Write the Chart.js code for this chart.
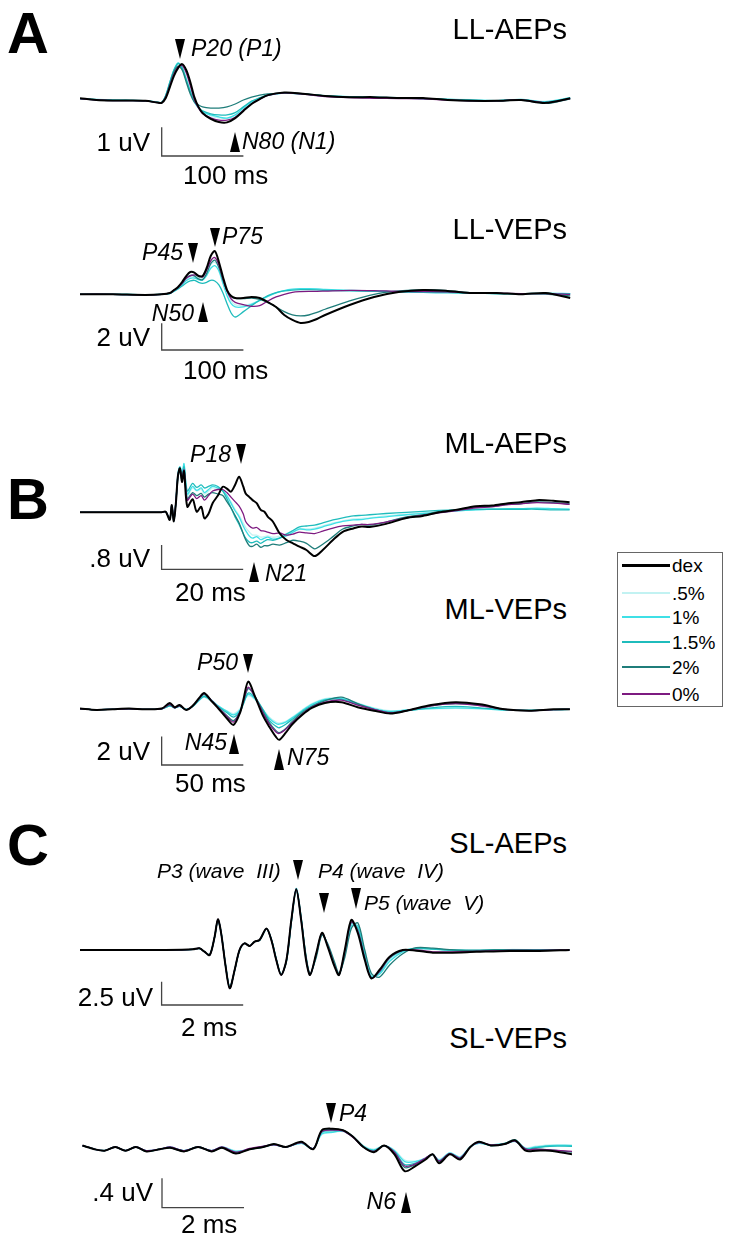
<!DOCTYPE html>
<html><head><meta charset="utf-8">
<script src="https://cdn.jsdelivr.net/npm/chart.js@4.4.0/dist/chart.umd.min.js"></script>
<style>
html,body{margin:0;padding:0;background:#fff;}
body{width:733px;height:1233px;position:relative;overflow:hidden;font-family:"Liberation Sans",Arial,sans-serif;color:#000;}
.t{position:absolute;white-space:pre;line-height:1;}
.tri{position:absolute;width:0;height:0;}
canvas{position:absolute;}
#legend{position:absolute;left:617px;top:552px;width:106px;height:155px;border:1px solid #666;box-sizing:border-box;}
</style></head><body>
<div id="legend"></div>
<script>
// ---------- series ----------
const seriesNames = ['dex', '.5%', '1%', '1.5%', '2%', '0%'];
const seriesColors = ['#000000', '#c2f2f2', '#3fe0e6', '#1fbcbc', '#1f7d7a', '#7d1a80'];

// ---------- LL-AEPs (ms, uV) ----------
const tLLAEP = [-100,-80,-60,-40,-20,-5,0,5,10,15,20,25,30,35,40,45,50,60,70,80,90,100,110,120,130,150,170,200,230,260,290,320,350,380,410,440,470,500];
const llaepDex = [0.06,0,-0.02,-0.02,-0.03,-0.09,-0.1,0.07,0.45,0.84,1.11,1.25,1.05,0.63,0.1,-0.24,-0.45,-0.66,-0.77,-0.78,-0.63,-0.38,-0.14,0.03,0.17,0.26,0.23,0.14,0.1,0.1,0.07,0.07,0,-0.03,-0.03,0,-0.1,0.06];
const llaepP05 = [0.04,0.01,0.01,0,-0.02,-0.07,-0.08,0.15,0.6,1.02,1.25,1.15,0.78,0.35,0,-0.25,-0.4,-0.55,-0.62,-0.64,-0.55,-0.32,-0.1,0.05,0.15,0.24,0.22,0.15,0.12,0.09,0.06,0.05,0.03,0.01,-0.01,0.02,-0.05,0.07];
const llaepP1 = [0.05,0.02,0,-0.01,-0.02,-0.08,-0.08,0.17,0.63,1.05,1.29,1.11,0.7,0.28,-0.07,-0.28,-0.42,-0.52,-0.59,-0.63,-0.52,-0.28,-0.07,0.07,0.17,0.24,0.21,0.14,0.12,0.1,0.08,0.05,0.02,0,-0.02,0.02,-0.06,0.08];
const llaepP15 = [0.05,0.01,-0.01,-0.01,-0.03,-0.08,-0.09,0.16,0.62,1.04,1.27,1.12,0.72,0.3,-0.05,-0.26,-0.38,-0.48,-0.52,-0.52,-0.44,-0.24,-0.04,0.08,0.18,0.24,0.22,0.14,0.11,0.09,0.07,0.05,0.02,-0.01,-0.02,0.01,-0.08,0.06];
const llaepP2 = [0.05,0,-0.02,-0.02,-0.03,-0.09,-0.1,0.14,0.56,0.98,1.18,1.05,0.63,0.21,-0.07,-0.17,-0.24,-0.28,-0.28,-0.24,-0.14,0,0.1,0.17,0.21,0.24,0.22,0.15,0.1,0.08,0.06,0.05,0.01,-0.03,-0.04,0,-0.12,0.04];
const llaepP0 = [0.05,0,-0.02,-0.02,-0.03,-0.09,-0.1,0.1,0.5,0.9,1.15,1.2,0.95,0.5,0.02,-0.28,-0.47,-0.62,-0.7,-0.7,-0.6,-0.36,-0.13,0.03,0.16,0.25,0.21,0.12,0.08,0.06,0.05,0.04,0,-0.03,-0.03,0,-0.09,0.05];

// ---------- LL-VEPs ----------
const tLLVEP = [-100,-60,-20,0,10,15,20,25,30,35,40,45,50,55,60,65,70,75,80,85,90,100,110,120,130,140,150,160,170,180,190,200,230,260,290,320,350,380,410,440,470,500];
const llvepDex = [0,0,-0.05,0,0.1,0.32,0.55,0.92,1.37,1.67,1.63,1.37,1.37,1.97,2.87,3.24,2.42,1.3,0.32,-0.13,-0.28,-0.28,-0.2,-0.28,-0.58,-0.95,-1.55,-1.92,-2.15,-2.07,-1.85,-1.55,-0.8,-0.2,0.17,0.32,0.25,0.1,0.1,0,0.1,-0.28];
const llvepP05 = [0,0,-0.03,0,0.08,0.28,0.48,0.78,1.1,1.3,1.35,1.25,1.2,1.6,2.2,2.4,2.0,1.0,0.1,-0.5,-0.8,-0.85,-0.7,-0.45,-0.15,0.1,0.25,0.35,0.4,0.4,0.38,0.35,0.3,0.25,0.2,0.15,0.12,0.08,0.05,0.05,0.05,0.02];
const llvepP1 = [0,0,-0.03,0,0.07,0.25,0.45,0.72,1.02,1.2,1.22,1.1,1.05,1.4,1.95,2.15,1.75,0.8,-0.1,-0.7,-0.95,-0.95,-0.75,-0.45,-0.15,0.1,0.28,0.38,0.42,0.42,0.4,0.36,0.3,0.25,0.2,0.15,0.12,0.08,0.05,0.05,0.08,0.05];
const llvepP15 = [0,0,-0.03,0,0.06,0.22,0.4,0.62,0.85,1.0,1.05,0.9,0.82,0.9,1.05,1.0,0.7,0.1,-0.7,-1.4,-1.7,-1.3,-0.85,-0.45,-0.1,0.12,0.25,0.32,0.35,0.35,0.33,0.3,0.25,0.22,0.18,0.15,0.12,0.08,0.05,0.04,0.05,0.05];
const llvepP2 = [0,0,-0.04,0,0.08,0.28,0.5,0.8,1.2,1.42,1.38,1.15,1.1,1.55,2.3,2.55,2.0,1.05,0.25,-0.15,-0.3,-0.32,-0.28,-0.38,-0.62,-0.95,-1.3,-1.55,-1.62,-1.55,-1.35,-1.12,-0.5,0,0.25,0.35,0.28,0.12,0.06,0.05,0.02,-0.12];
const llvepP0 = [0,0,-0.04,0,0.08,0.3,0.5,0.82,1.2,1.38,1.45,1.42,1.3,1.8,2.5,2.75,2.2,1.15,0.25,-0.35,-0.6,-0.78,-0.9,-0.85,-0.5,-0.2,0,0.15,0.2,0.22,0.22,0.24,0.3,0.28,0.22,0.2,0.18,0.12,0.08,0.05,0.05,0];

// ---------- ML-AEPs ----------
const tMLAEP = [-20,-10,0,1,2,2.5,3,3.5,4,4.5,5,5.5,6.3,7.6,8.6,9.7,10.5,11.5,12.5,13.8,15,16,17,18,19,20,20.6,21.5,22.3,23.3,24.3,25.2,26,27.3,28.9,30.6,32.2,33.8,35.5,37.5,39.5,42,44.4,47,49,51,55,60,64,68,72,77,81,85,88,92,96,100];
const mlaepDex = [0,0,0,0.02,-0.25,0.24,-0.3,0.3,1.2,1.45,1.0,1.35,0.18,0.43,0.02,0.18,-0.2,-0.05,0.3,0.55,0.84,0.78,0.68,0.9,1.17,0.85,0.62,0.5,0.4,0.3,0.08,0.02,-0.14,-0.31,-0.69,-0.91,-1.02,-1.13,-1.24,-1.44,-1.24,-0.91,-0.64,-0.53,-0.47,-0.48,-0.38,-0.19,-0.12,0,0.08,0.2,0.22,0.3,0.33,0.4,0.38,0.33];
const mlaepP05 = [0,0,0,0.02,-0.22,0.22,-0.28,0.35,1.25,1.5,1.25,1.55,0.55,0.8,0.7,0.75,0.6,0.7,0.8,0.78,0.7,0.55,0.35,0.1,-0.1,-0.35,-0.5,-0.65,-0.75,-0.75,-0.82,-0.8,-0.78,-0.82,-0.78,-0.7,-0.6,-0.52,-0.55,-0.52,-0.45,-0.35,-0.28,-0.22,-0.2,-0.18,-0.12,-0.06,-0.02,0.02,0.05,0.08,0.1,0.12,0.12,0.12,0.1,0.1];
const mlaepP1 = [0,0,0,0.02,-0.22,0.22,-0.28,0.35,1.25,1.5,1.3,1.6,0.6,0.85,0.72,0.8,0.65,0.75,0.85,0.8,0.72,0.55,0.3,0.05,-0.15,-0.45,-0.6,-0.78,-0.85,-0.8,-0.9,-0.85,-0.82,-0.88,-0.85,-0.78,-0.65,-0.55,-0.58,-0.55,-0.48,-0.38,-0.3,-0.25,-0.24,-0.2,-0.15,-0.08,-0.04,0,0.04,0.08,0.1,0.12,0.12,0.14,0.12,0.1];
const mlaepP15 = [0,0,0,0.02,-0.22,0.22,-0.28,0.35,1.2,1.45,1.2,1.5,0.7,0.95,0.82,0.9,0.8,0.85,0.9,0.85,0.7,0.45,0.15,-0.15,-0.4,-0.7,-0.85,-0.98,-1.0,-0.95,-1.02,-0.95,-0.9,-0.92,-0.85,-0.72,-0.6,-0.48,-0.45,-0.42,-0.35,-0.25,-0.18,-0.12,-0.1,-0.08,-0.04,0,0.03,0.06,0.08,0.1,0.1,0.1,0.1,0.1,0.08,0.08];
const mlaepP2 = [0,0,0,0.02,-0.2,0.2,-0.25,0.3,1.1,1.4,1.05,1.3,0.45,0.65,0.55,0.62,0.5,0.6,0.65,0.6,0.55,0.35,0.15,-0.1,-0.35,-0.7,-0.9,-1.1,-1.12,-1.05,-1.15,-1.1,-1.1,-1.05,-1.08,-1.0,-0.92,-0.95,-1.02,-1.2,-1.05,-0.8,-0.55,-0.45,-0.4,-0.42,-0.32,-0.15,-0.08,0.02,0.08,0.18,0.2,0.26,0.28,0.34,0.32,0.28];
const mlaepP0 = [0,0,0,0.02,-0.22,0.22,-0.28,0.35,1.2,1.45,1.1,1.4,0.4,0.6,0.45,0.55,0.4,0.55,0.7,0.75,0.75,0.65,0.5,0.35,0.2,-0.05,-0.3,-0.45,-0.52,-0.5,-0.6,-0.62,-0.65,-0.7,-0.68,-0.75,-0.72,-0.65,-0.68,-0.7,-0.62,-0.52,-0.45,-0.42,-0.4,-0.4,-0.32,-0.18,-0.1,-0.02,0.05,0.15,0.18,0.25,0.28,0.32,0.3,0.26];

// ---------- ML-VEPs ----------
const tMLVEP = [-50,-40,-30,-20,-10,0,5,8,11,15,19,23,26,30,34,40,44,48,50,53,57,62,66,70,72,76,80,86,92,100,110,120,130,140,150,165,180,195,210,225,240,250];
const mlvepDex = [0.1,0,0.05,0.1,0.05,0.1,0.5,0.2,0.35,0,0.3,0.85,1.2,0.7,0.2,-0.6,-1.05,-0.2,0.7,2.0,1.0,-0.4,-1.2,-1.9,-2.1,-1.6,-1.0,-0.35,0.15,0.5,0.55,0.2,-0.05,-0.25,-0.05,0.35,0.55,0.4,0.05,-0.05,0.05,0.05];
const mlvepP05 = [0.08,0.02,0.05,0.08,0.05,0.08,0.3,0.15,0.25,0.05,0.25,0.65,0.9,0.65,0.3,-0.05,-0.25,0.1,0.55,1.0,0.75,0.05,-0.5,-0.85,-0.92,-0.8,-0.5,0,0.45,0.8,0.85,0.5,0.15,-0.05,0,0.08,0.12,0.08,0,0,0.02,0.05];
const mlvepP1 = [0.08,0.02,0.05,0.08,0.05,0.08,0.3,0.15,0.25,0.05,0.25,0.7,1.0,0.75,0.35,-0.1,-0.35,0,0.5,1.1,0.8,0,-0.6,-0.95,-1.0,-0.85,-0.55,-0.05,0.4,0.75,0.8,0.45,0.1,-0.1,0,0.1,0.15,0.1,0,-0.02,0.02,0.05];
const mlvepP15 = [0.08,0.02,0.05,0.08,0.05,0.08,0.3,0.15,0.25,0.05,0.25,0.7,0.95,0.7,0.3,-0.2,-0.5,-0.1,0.4,1.2,0.9,0.05,-0.75,-1.15,-1.25,-1.0,-0.65,-0.1,0.3,0.7,0.75,0.4,0.05,-0.15,-0.05,0.15,0.25,0.15,0.02,-0.02,0.02,0.05];
const mlvepP2 = [0.08,0.02,0.05,0.08,0.05,0.08,0.35,0.15,0.3,0.02,0.28,0.8,1.1,0.7,0.25,-0.4,-0.75,-0.15,0.5,1.5,1.0,-0.1,-0.9,-1.45,-1.6,-1.3,-0.8,-0.2,0.25,0.65,0.9,0.45,0.05,-0.2,-0.05,0.3,0.45,0.35,0.05,-0.05,0.03,0.05];
const mlvepP0 = [0.08,0.02,0.05,0.08,0.05,0.08,0.4,0.15,0.3,0.02,0.28,0.8,1.15,0.75,0.25,-0.45,-0.85,-0.1,0.6,1.6,0.95,-0.2,-1.0,-1.55,-1.65,-1.35,-0.9,-0.3,0.2,0.55,0.7,0.35,0.05,-0.2,-0.05,0.3,0.45,0.3,0.05,-0.05,0.03,0.05];

// ---------- SL-AEPs ----------
const tSLAEP = [-2,-0.3,0.5,0.77,0.93,1.05,1.18,1.3,1.38,1.46,1.57,1.67,1.79,1.91,2.03,2.16,2.28,2.4,2.57,2.69,2.81,2.93,3.06,3.18,3.3,3.42,3.54,3.64,3.79,3.93,4.07,4.24,4.35,4.49,4.65,4.81,4.98,5.14,5.34,5.59,5.91,6.24,6.65,7.06,7.72,8.53,9.26,10];
const slaepDex = [0,0,0.02,0.07,0.18,-0.18,-0.54,1.43,3.29,1.79,-1.79,-4.11,-2.14,0,0.71,0.43,0.89,1.07,2.3,1.07,-1.07,-2.68,-1.07,3.22,6.51,3.22,-1.07,-2.68,-0.36,1.85,0.36,-1.79,-2.68,0,3.22,1.79,-1.07,-3.04,-2.14,-0.72,0,-0.07,-0.29,-0.29,-0.2,-0.1,-0.1,0];
const slaepP05 = [0,0,0.02,0.06,0.16,-0.16,-0.5,1.4,3.2,1.85,-1.7,-4.0,-2.2,-0.05,0.7,0.45,0.88,1.05,2.25,1.15,-0.95,-2.6,-1.2,3.0,6.5,3.45,-0.85,-2.6,-0.55,1.7,0.55,-1.55,-2.6,-0.4,2.75,2.45,-0.55,-2.9,-2.5,-1.05,-0.15,0.18,0.12,0.02,-0.05,0.05,0.02,0.05];
const slaepP1 = [0,0,0.02,0.06,0.16,-0.16,-0.5,1.4,3.2,1.85,-1.7,-4.0,-2.2,-0.05,0.7,0.45,0.88,1.05,2.25,1.15,-0.95,-2.6,-1.2,3.0,6.6,3.5,-0.8,-2.6,-0.6,1.7,0.6,-1.5,-2.6,-0.5,2.6,2.6,-0.4,-2.8,-2.6,-1.2,-0.2,0.2,0.1,0,-0.05,0.05,0,0.05];
const slaepP15 = [0,0,0.02,0.06,0.16,-0.16,-0.5,1.4,3.2,1.85,-1.7,-4.0,-2.2,-0.05,0.7,0.45,0.88,1.05,2.25,1.15,-0.95,-2.6,-1.2,3.0,6.4,3.4,-0.9,-2.65,-0.5,1.75,0.5,-1.6,-2.65,-0.3,2.9,2.3,-0.7,-2.95,-2.4,-0.9,-0.1,0.15,0.1,0,-0.05,0.05,0,0.02];
const slaepP2 = [0,0,0.02,0.07,0.18,-0.18,-0.54,1.43,3.25,1.8,-1.75,-4.05,-2.15,0,0.7,0.43,0.88,1.06,2.28,1.1,-1.0,-2.65,-1.1,3.1,6.45,3.3,-0.6,-2.5,-0.8,1.6,0.7,-1.3,-2.5,-0.8,2.3,2.9,0,-2.5,-2.9,-1.6,-0.4,0.25,0.2,0.05,-0.05,0.05,0,0.05];
const slaepP0 = [0,0,0.02,0.07,0.18,-0.18,-0.54,1.43,3.29,1.79,-1.79,-4.11,-2.14,0,0.71,0.43,0.89,1.07,2.3,1.07,-1.07,-2.68,-1.07,3.22,6.51,3.22,-1.0,-2.65,-0.4,1.8,0.45,-1.7,-2.65,-0.15,3.0,2.0,-0.9,-3.0,-2.3,-0.8,-0.05,0,-0.2,-0.2,-0.15,-0.05,-0.05,0];

// ---------- SL-VEPs ----------
const tSLVEP = [-1.94,-1.65,-1.4,-1.14,-0.89,-0.64,-0.38,-0.05,0.2,0.54,0.88,1.21,1.46,1.8,2.14,2.47,2.73,3.02,3.4,3.69,3.9,4.16,4.41,4.66,4.91,5.17,5.42,5.67,5.92,6.18,6.43,6.6,6.76,7.02,7.27,7.52,7.73,8.02,8.36,8.61,8.87,9.12,9.46,10];
const slvepDex = [0.02,-0.03,-0.05,0,-0.05,0,-0.06,-0.03,-0.01,-0.06,0,-0.06,-0.01,-0.09,-0.03,0,0.04,0,0.07,-0.03,0.23,0.25,0.23,0.14,0,-0.07,0.02,-0.1,-0.33,-0.26,-0.17,-0.1,-0.22,-0.1,-0.17,0,0.07,0.02,0.04,0.09,-0.05,-0.05,-0.05,-0.1];
const slvepP05 = [0.02,-0.03,-0.04,0,-0.05,0,-0.05,-0.03,0,-0.05,0,-0.05,0,-0.05,-0.03,0.01,0.03,0,0.05,-0.02,0.17,0.2,0.21,0.14,0.02,-0.03,0.02,-0.04,-0.18,-0.19,-0.15,-0.1,-0.17,-0.08,-0.13,0.01,0.05,0.03,0.05,0.07,-0.01,0.01,0.03,0.03];
const slvepP1 = [0.02,-0.03,-0.05,0,-0.05,0,-0.05,-0.03,0,-0.05,0,-0.05,0,-0.06,-0.03,0.01,0.03,0,0.05,-0.02,0.18,0.2,0.22,0.14,0.01,-0.04,0.02,-0.05,-0.2,-0.2,-0.15,-0.1,-0.18,-0.08,-0.14,0,0.05,0.03,0.05,0.08,-0.02,0,0.02,0.02];
const slvepP15 = [0.02,-0.03,-0.05,0,-0.05,0,-0.06,-0.03,-0.01,-0.05,0,-0.05,-0.01,-0.07,-0.03,0,0.03,0,0.06,-0.02,0.2,0.22,0.22,0.14,0.01,-0.05,0.02,-0.06,-0.24,-0.22,-0.16,-0.1,-0.19,-0.09,-0.15,0,0.06,0.02,0.04,0.08,-0.03,-0.01,0.01,0.01];
const slvepP2 = [0.02,-0.03,-0.05,0,-0.05,0,-0.06,-0.03,-0.01,-0.06,0,-0.06,-0.01,-0.08,-0.03,0,0.04,0,0.06,-0.03,0.22,0.24,0.23,0.14,0,-0.06,0.02,-0.08,-0.28,-0.24,-0.16,-0.1,-0.2,-0.09,-0.16,0,0.07,0.02,0.05,0.1,-0.03,-0.03,-0.04,-0.07];
const slvepP0 = [0.02,-0.03,-0.05,0,-0.05,0,-0.05,-0.03,0,-0.05,0,-0.05,0,-0.07,-0.02,0.01,0.03,0,0.06,-0.02,0.21,0.23,0.22,0.13,0,-0.06,0.02,-0.07,-0.26,-0.23,-0.15,-0.1,-0.19,-0.09,-0.15,0,0.06,0.03,0.04,0.08,-0.03,-0.03,-0.04,-0.06];

// ---------- scale bar sizes (ms, uV) ----------
const scaleBarDur = [100, 100, 20, 50, 2, 2];
const scaleBarAmp = [1, 2, 0.8, 2, 2.5, 0.4];
const scaleBarText = [['1 uV','100 ms'],['2 uV','100 ms'],['.8 uV','20 ms'],['2 uV','50 ms'],['2.5 uV','2 ms'],['.4 uV','2 ms']];

// ---------- panel layout (pixels) ----------
const panels = [
  {t:tLLAEP, v:[llaepDex,llaepP05,llaepP1,llaepP15,llaepP2,llaepP0], xmin:-100, pxPerX:0.817, base:100, pxPerY:28.7, top:38, bottom:172, barY:156},
  {t:tLLVEP, v:[llvepDex,llvepP05,llvepP1,llvepP15,llvepP2,llvepP0], xmin:-100, pxPerX:0.817, base:294.3, pxPerY:13.35, top:224, bottom:362, barY:350},
  {t:tMLAEP, v:[mlaepDex,mlaepP05,mlaepP1,mlaepP15,mlaepP2,mlaepP0], xmin:-20, pxPerX:4.08, base:512.3, pxPerY:30.4, top:440, bottom:592, barY:569.3},
  {t:tMLVEP, v:[mlvepDex,mlvepP05,mlvepP1,mlvepP15,mlvepP2,mlvepP0], xmin:-50, pxPerX:1.633, base:710, pxPerY:14.2, top:650, bottom:780, barY:765},
  {t:tSLAEP, v:[slaepDex,slaepP05,slaepP1,slaepP15,slaepP2,slaepP0], xmin:-2, pxPerX:40.8, base:950, pxPerY:9.33, top:868, bottom:1015, barY:1005},
  {t:tSLVEP, v:[slvepDex,slvepP05,slvepP1,slvepP15,slvepP2,slvepP0], xmin:-2, pxPerX:41, base:1147, pxPerY:73.3, top:1088, bottom:1216, barY:1207.6}
];
const plotLeft = 80, plotWidth = 492;
const drawOrder = [0, 5, 4, 3, 2, 1]; // dex on top
const lineWidths = [2, 1.3, 1.3, 1.3, 1.3, 1.3];

panels.forEach((p, pi) => {
  const h = p.bottom - p.top;
  const cv = document.createElement('canvas');
  cv.width = plotWidth; cv.height = h;
  cv.style.left = plotLeft + 'px'; cv.style.top = p.top + 'px';
  cv.style.width = plotWidth + 'px'; cv.style.height = h + 'px';
  document.body.appendChild(cv);
  const xmax = p.xmin + plotWidth / p.pxPerX;
  const ymax = (p.base - p.top) / p.pxPerY;
  const ymin = (p.base - p.bottom) / p.pxPerY;
  const datasets = drawOrder.map(si => ({
    label: seriesNames[si],
    data: p.t.map((x, j) => ({x: x, y: p.v[si][j]})),
    borderColor: seriesColors[si],
    borderWidth: lineWidths[si],
    pointRadius: 0,
    tension: 0.3,
    fill: false,
    clip: false
  }));
  const y0 = (p.base - p.barY) / p.pxPerY;
  datasets.push({
    label: 'scale',
    data: [{x:0, y:y0 + scaleBarAmp[pi]}, {x:0, y:y0}, {x:scaleBarDur[pi], y:y0}],
    borderColor: '#444', borderWidth: 1.3, pointRadius: 0, tension: 0, fill: false, clip: false
  });
  new Chart(cv, {
    type: 'line',
    data: {datasets},
    options: {
      responsive: false, animation: false, events: [], devicePixelRatio: 1,
      layout: {padding: 0},
      plugins: {legend: {display: false}, tooltip: {enabled: false}},
      scales: {
        x: {type: 'linear', min: p.xmin, max: xmax, display: false},
        y: {type: 'linear', min: ymin, max: ymax, display: false}
      }
    }
  });
});

// ---------- text annotations ----------
function txt(s, x, y, size, align, style) {
  const d = document.createElement('div');
  d.className = 't';
  d.textContent = s;
  d.style.fontSize = size + 'px';
  d.style.top = y + 'px';
  let tx = '0';
  if (align === 'r') tx = '-100%';
  else if (align === 'c') tx = '-50%';
  d.style.left = x + 'px';
  d.style.transform = 'translate(' + tx + ',-50%)';
  if (style === 'i') d.style.fontStyle = 'italic';
  if (style === 'b') d.style.fontWeight = 'bold';
  document.body.appendChild(d);
}
function tri(cx, top, h, dir) {
  const d = document.createElement('div');
  d.className = 'tri';
  const w = 5.5;
  d.style.left = (cx - w) + 'px';
  d.style.top = top + 'px';
  d.style.borderLeft = w + 'px solid transparent';
  d.style.borderRight = w + 'px solid transparent';
  if (dir === 'down') d.style.borderTop = h + 'px solid #000';
  else d.style.borderBottom = h + 'px solid #000';
  document.body.appendChild(d);
}
// panel letters
txt('A', 7, 33, 58, 'l', 'b');
txt('B', 7, 499, 58, 'l', 'b');
txt('C', 7, 845, 58, 'l', 'b');
// titles
const titles = ['LL-AEPs','LL-VEPs','ML-AEPs','ML-VEPs','SL-AEPs','SL-VEPs'];
const titleY = [29, 229, 443, 609, 843, 1038];
titles.forEach((s, i) => txt(s, 567, titleY[i], 29, 'r'));
// scale bar labels
const sbAmpPos = [[150,142],[150,337],[150,558],[150,751],[153,997],[153,1192]];
const sbDurPos = [[183,175],[183,370],[175,592],[175,783],[181,1027],[181,1224]];
scaleBarText.forEach((s, i) => {
  txt(s[0], sbAmpPos[i][0], sbAmpPos[i][1], 26, 'r');
  txt(s[1], sbDurPos[i][0], sbDurPos[i][1], 26, 'l');
});
// peak labels
txt('P20 (P1)', 191, 48, 23, 'l', 'i'); tri(180, 39, 20, 'down');
txt('N80 (N1)', 242, 141, 23, 'l', 'i'); tri(235, 132, 20, 'up');
txt('P45', 183, 252, 23, 'r', 'i'); tri(193, 243, 20, 'down');
txt('P75', 222, 236, 23, 'l', 'i'); tri(215, 228, 19, 'down');
txt('N50', 194, 313, 23, 'r', 'i'); tri(203, 302, 20, 'up');
txt('P18', 231, 454, 23, 'r', 'i'); tri(241, 444, 20, 'down');
txt('N21', 265, 573, 23, 'l', 'i'); tri(254, 562, 20, 'up');
txt('P50', 238, 662, 23, 'r', 'i'); tri(248, 654, 19, 'down');
txt('N45', 227, 742, 23, 'r', 'i'); tri(234, 734, 20, 'up');
txt('N75', 287, 757, 23, 'l', 'i'); tri(279, 749, 21, 'up');
txt('P3 (wave  III)', 157, 870, 21, 'l', 'i'); tri(298, 860, 20, 'down');
txt('P4 (wave  IV)', 318, 870, 21, 'l', 'i'); tri(324, 893, 20, 'down');
txt('P5 (wave  V)', 364, 902, 21, 'l', 'i'); tri(356, 888, 21, 'down');
txt('P4', 339, 1113, 23, 'l', 'i'); tri(331, 1103, 20, 'down');
txt('N6', 396, 1201, 23, 'r', 'i'); tri(406, 1192, 21, 'up');

// ---------- legend ----------
const legendY = [565, 593, 617, 642, 667, 694];
seriesNames.forEach((n, i) => {
  const l = document.createElement('div');
  l.style.position = 'absolute';
  l.style.left = '622px';
  l.style.width = '48px';
  const lw = i === 0 ? 3 : 2.5;
  l.style.height = lw + 'px';
  l.style.top = (legendY[i] - lw / 2) + 'px';
  l.style.background = seriesColors[i];
  document.body.appendChild(l);
  txt(n, 672, legendY[i], 19, 'l');
});
</script>
</body></html>
